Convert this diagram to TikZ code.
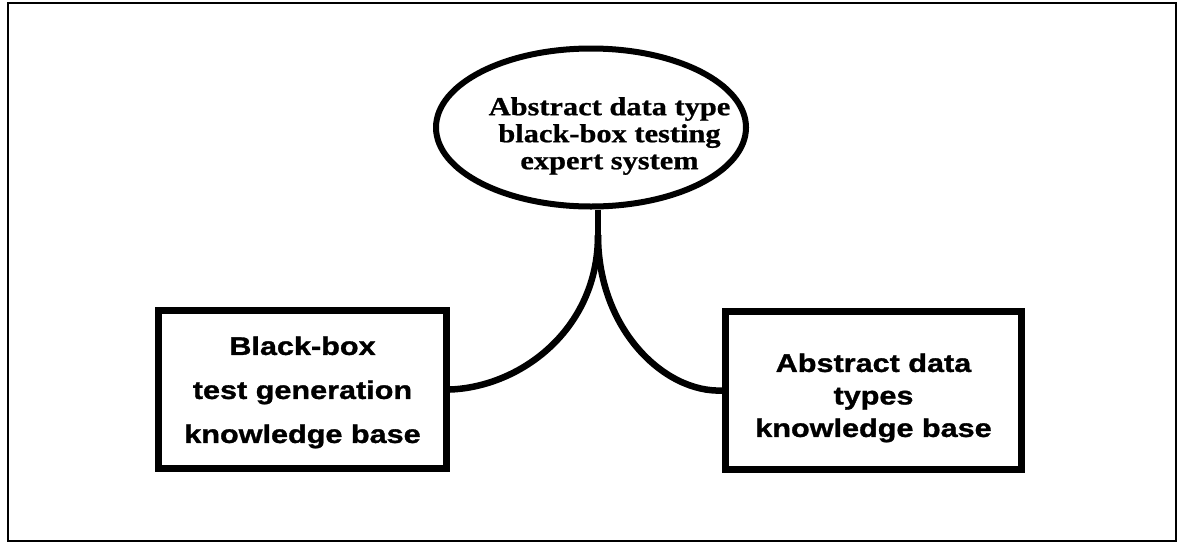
\documentclass[tikz,border=0pt]{standalone}
\usepackage{fontspec}
\usetikzlibrary{shapes.geometric}
\newfontfamily\helvx[FakeStretch=1.2,FakeBold=1.2]{Liberation Sans}
\newfontfamily\timesx[FakeStretch=1.17,FakeBold=0.8]{Liberation Serif}
\begin{document}
\begin{tikzpicture}[x=1pt,y=-1pt,
  kbbox/.style={draw, line width=7pt, rectangle, inner sep=0pt, minimum height=158pt},
  kbtext/.style={align=center, inner sep=0pt, font=\helvx\bfseries\fontsize{25.5}{44}\selectfont},
  link/.style={line width=6.5pt}]
\useasboundingbox (0,0) rectangle (1180,544);
\draw[line width=1.5pt] (8,3) rectangle (1176,541);
% top ellipse
\node[draw, ellipse, line width=6pt, inner sep=0pt, minimum width=310pt, minimum height=158pt] (ell) at (591,127.5) {};
\node[align=center, inner sep=0pt, font=\timesx\bfseries\fontsize{26}{27}\selectfont] (elltext) at (609.5,136) {Abstract data type\\black-box testing\\expert system};
% boxes
\node[kbbox, minimum width=288pt] (lbox) at (302.5,389.5) {};
\node[kbtext] (ltext) at (302.5,392.4) {Black-box\\test generation\\knowledge base};
\node[kbbox, minimum width=296pt] (rbox) at (873.5,390.5) {};
\node[kbtext, font=\helvx\bfseries\fontsize{25.5}{32.5}\selectfont] (rtext) at (873.5,397.9) {Abstract data\\types\\knowledge base};
% connectors
\coordinate (split) at (598,235);
\draw[link] (split |- ell.south) -- (split);
\draw[link] (split) .. controls (598,330) and (520,387) .. (lbox.east);
\draw[link] (split) .. controls (598,330) and (665,393) .. (rbox.west);
\end{tikzpicture}
\end{document}
